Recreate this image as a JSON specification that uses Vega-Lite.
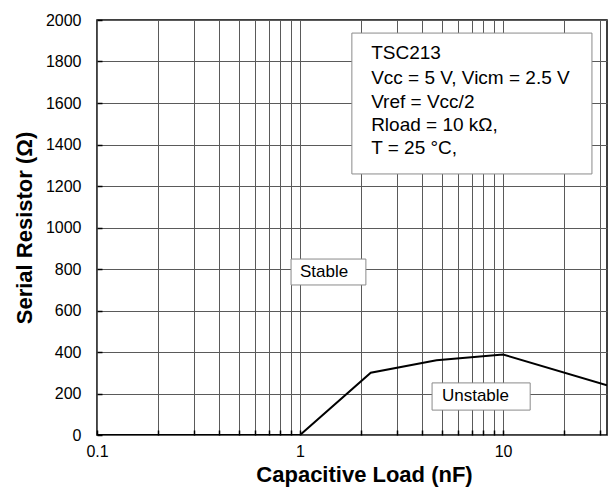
{
  "$schema": "https://vega.github.io/schema/vega-lite/v6.json",
  "width": 510,
  "height": 415,
  "autosize": "none",
  "padding": {"left": 97, "top": 20, "right": 3, "bottom": 56},
  "background": "white",
  "config": {
    "font": "Liberation Sans",
    "view": {"stroke": "black", "strokeWidth": 1.5},
    "axis": {"gridColor": "#5a5a5a", "gridOpacity": 1, "gridWidth": 1, "domain": false, "labelColor": "black", "titleColor": "black", "labelFont": "Liberation Sans", "titleFont": "Liberation Sans", "tickColor": "black"}
  },
  "datasets": {
    "curve": [
      {"c": 0.1, "r": 0},
      {"c": 1, "r": 0},
      {"c": 2.23, "r": 300},
      {"c": 4.7, "r": 360},
      {"c": 10, "r": 388},
      {"c": 32.5, "r": 240}
    ],
    "boxes": [
      {"x1": 0.903, "x2": 2.11, "y1": 848, "y2": 723},
      {"x1": 4.47, "x2": 13.6, "y1": 251, "y2": 120},
      {"x1": 1.8, "x2": 27.4, "y1": 1937, "y2": 1258}
    ],
    "labels": [
      {"c": 1.0, "r": 786, "t": "Stable", "s": 17},
      {"c": 5.0, "r": 186, "t": "Unstable", "s": 17},
      {"c": 2.24, "r": 1839, "t": "TSC213", "s": 19},
      {"c": 2.24, "r": 1719, "t": "Vcc = 5 V, Vicm = 2.5 V", "s": 19},
      {"c": 2.24, "r": 1606, "t": "Vref = Vcc/2", "s": 19},
      {"c": 2.24, "r": 1494, "t": "Rload = 10 kΩ,", "s": 19},
      {"c": 2.24, "r": 1381, "t": "T = 25 °C,", "s": 19}
    ]
  },
  "layer": [
    {
      "data": {"name": "curve"},
      "mark": {"type": "line", "color": "black", "strokeWidth": 2, "clip": true},
      "encoding": {
        "x": {
          "field": "c", "type": "quantitative",
          "scale": {"type": "log", "domain": [0.1, 32.5], "nice": false},
          "axis": {
            "title": "Capacitive Load (nF)",
            "titleFontSize": 22, "titleFontWeight": "bold", "titlePadding": 5,
            "titleX": 267,
            "labelFontSize": 16, "labelPadding": 13, "ticks": true,
            "tickSize": -5, "tickWidth": 1.5,
            "values": [0.1,0.2,0.3,0.4,0.5,0.6,0.7,0.8,0.9,1,2,3,4,5,6,7,8,9,10,20,30],
            "format": "~g",
            "labelFlush": false,
            "labelExpr": "(datum.value == 0.1 || datum.value == 1 || datum.value == 10) ? datum.label : ''",
            "labelOverlap": false
          }
        },
        "y": {
          "field": "r", "type": "quantitative",
          "scale": {"domain": [0, 2000], "nice": false},
          "axis": {
            "title": "Serial Resistor (Ω)",
            "titleFontSize": 22, "titleFontWeight": "bold", "titlePadding": 9,
            "labelFontSize": 16, "labelPadding": 21, "ticks": true,
            "tickSize": -5, "tickWidth": 1.5,
            "values": [0,100,200,300,400,500,600,700,800,900,1000,1100,1200,1300,1400,1500,1600,1700,1800,1900,2000],
            "labelExpr": "datum.value % 200 == 0 ? datum.label : ''",
            "format": "d",
            "labelFlush": false,
            "labelOverlap": false
          }
        }
      }
    },
    {
      "data": {"name": "boxes"},
      "mark": {"type": "rect", "fill": "white", "stroke": "#8a8a8a", "strokeWidth": 1},
      "encoding": {
        "x": {"field": "x1", "type": "quantitative"},
        "x2": {"field": "x2"},
        "y": {"field": "y1", "type": "quantitative"},
        "y2": {"field": "y2"}
      }
    },
    {
      "data": {"name": "labels"},
      "mark": {"type": "text", "align": "left", "baseline": "middle", "color": "black"},
      "encoding": {
        "x": {"field": "c", "type": "quantitative"},
        "y": {"field": "r", "type": "quantitative"},
        "text": {"field": "t"},
        "size": {"field": "s", "type": "quantitative", "scale": null}
      }
    }
  ]
}
